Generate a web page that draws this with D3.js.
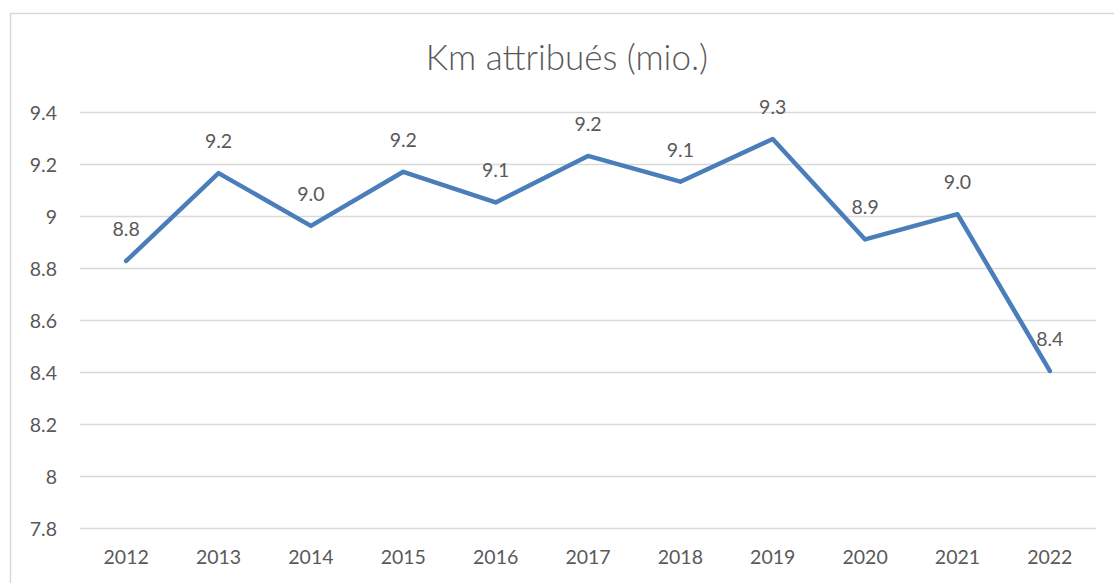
<!DOCTYPE html>
<html>
<head>
<meta charset="utf-8">
<script src="https://cdn.jsdelivr.net/npm/d3@7"></script>
<style>
  html, body { margin: 0; padding: 0; background: #fff; }
  svg { display: block; }
  text { font-family: Lato, "Open Sans", sans-serif; fill: #595959; }
</style>
</head>
<body>
<svg id="chart" width="1114" height="583"></svg>
<script>
const title = "Km attribués (mio.)";
const years = ["2012","2013","2014","2015","2016","2017","2018","2019","2020","2021","2022"];
const values = [8.827, 9.165, 8.962, 9.170, 9.052, 9.231, 9.132, 9.296, 8.910, 9.007, 8.404];
const yTicks = [7.8, 8, 8.2, 8.4, 8.6, 8.8, 9, 9.2, 9.4];

const svg = d3.select("#chart");

// chart area border
svg.append("rect")
  .attr("x", 10.5).attr("y", 13.5)
  .attr("width", 1120).attr("height", 600)
  .attr("fill", "#fff").attr("stroke", "#d9d9d9").attr("stroke-width", 1.5);

const x = d3.scaleBand().domain(years).range([80, 1096]);
const y = d3.scaleLinear().domain([7.8, 9.4]).range([528, 112]);

// gridlines
svg.append("g").selectAll("line").data(yTicks).join("line")
  .attr("x1", 80).attr("x2", 1096)
  .attr("y1", d => Math.round(y(d)) + 0.5).attr("y2", d => Math.round(y(d)) + 0.5)
  .attr("stroke", "#d9d9d9").attr("stroke-width", 1.3);

// y axis labels
const yAxis = d3.axisLeft(y).tickValues(yTicks).tickSize(0).tickPadding(0)
  .tickFormat(d => d3.format("~g")(d));
const gy = svg.append("g").attr("transform", "translate(57,0)").call(yAxis);
gy.select(".domain").remove();
gy.selectAll("text").style("font-family", "Lato, 'Open Sans', sans-serif")
  .style("font-size", "19.5px").attr("fill", "#595959").attr("dy", "0.36em");

// x axis labels
const xAxis = d3.axisBottom(x).tickSize(0).tickPadding(0);
const gx = svg.append("g").attr("transform", "translate(0,545)").call(xAxis);
gx.select(".domain").remove();
gx.selectAll("text").style("font-family", "Lato, 'Open Sans', sans-serif")
  .style("font-size", "19.5px").attr("fill", "#595959").attr("dy", "0.95em");

// line
const line = d3.line()
  .x((d, i) => x(years[i]) + x.bandwidth() / 2)
  .y(d => y(d));
svg.append("path").datum(values)
  .attr("d", line)
  .attr("fill", "none")
  .attr("stroke", "#4a7ebb")
  .attr("stroke-width", 4.5)
  .attr("stroke-linejoin", "round")
  .attr("stroke-linecap", "round");

// data labels
svg.append("g").selectAll("text").data(values).join("text")
  .attr("x", (d, i) => x(years[i]) + x.bandwidth() / 2)
  .attr("y", d => y(d) - 25)
  .attr("text-anchor", "middle")
  .style("font-size", "19.5px")
  .text(d => d3.format(".1f")(d));

// title
svg.append("text")
  .attr("x", 567).attr("y", 70)
  .attr("text-anchor", "middle")
  .style("font-size", "35px")
  .style("font-weight", "300")
  .text(title);
</script>
</body>
</html>
